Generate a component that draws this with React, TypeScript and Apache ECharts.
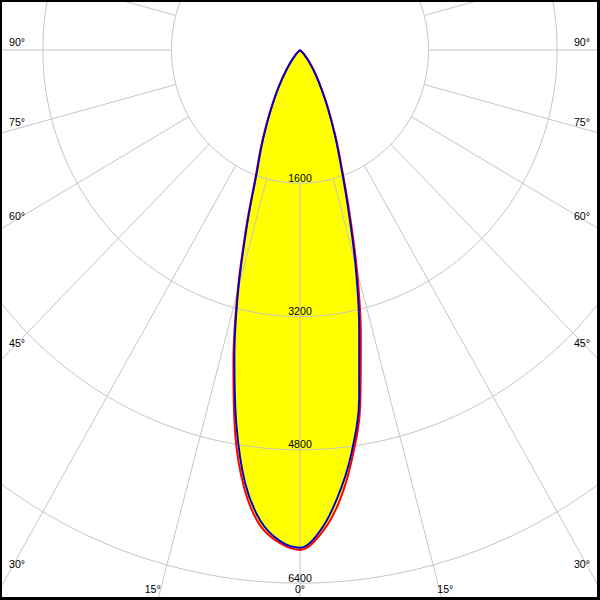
import React, { useEffect, useRef } from "react";
import * as echarts from "echarts";

// Gamma angles (degrees from nadir)
const GAMMA = [
  0, 2.5, 5, 7.5, 10, 12.5, 15, 17.5, 20, 22.5, 25, 27.5, 30, 32.5, 35, 37.5, 40,
  42.5, 45, 47.5, 50, 52.5, 55, 57.5, 60, 62.5, 65, 67.5, 70, 72.5, 75, 77.5, 80,
  82.5, 85, 87.5, 90,
];
const Z16 = [0, 0, 0, 0, 0, 0, 0, 0, 0, 0, 0, 0, 0, 0, 0, 0];

// Red plane (right half / left half), cd
const RED_RIGHT = [
  6000, 5820, 5470, 4955, 4320, 3500, 2740, 2050, 1540, 1200, 920, 705, 530, 395, 295,
  215, 150, 95, 50, 20, 0, ...Z16,
];
const RED_LEFT = [
  6000, 5920, 5725, 5310, 4655, 3830, 3000, 2220, 1610, 1280, 995, 760, 580, 425, 305,
  220, 150, 95, 50, 20, 0, ...Z16,
];
// Blue plane (right half / left half), cd
const BLUE_RIGHT = [
  5975, 5775, 5385, 4890, 4240, 3400, 2665, 1990, 1500, 1170, 900, 690, 520, 390, 290,
  210, 150, 95, 50, 20, 0, ...Z16,
];
const BLUE_LEFT = [
  5975, 5895, 5670, 5240, 4560, 3770, 2960, 2180, 1580, 1250, 970, 745, 570, 420, 300,
  215, 150, 95, 50, 20, 0, ...Z16,
];

const RADIUS_LABELS = [1600, 3200, 4800, 6400];
const RADIUS_MIN = 1600;
const RADIUS_MAX = 8000;
const RADIUS_STEP = 1600;
const ANGLE_STEP = 15;
const SIDE_LABEL_ANGLES = [90, 75, 60, 45, 30];
const BOTTOM_LABEL_ANGLES = [15, 0];

// layout
const W = 622;
const S = 600 / W; // horizontal compression of the picture
const CX = 300; // outer px
const CY = 50;
const R_STEP_PX = 133.3;
const R_MAX_PX = (R_STEP_PX * RADIUS_MAX) / RADIUS_STEP;
const FONT = '11px "Liberation Sans", Arial, sans-serif';

// one closed outline: right half (from 90° down to just past nadir), then left half
function curve(left: number[], right: number[]) {
  const pts: [number, number][] = [];
  for (let i = GAMMA.length - 1; i >= 1; i--) pts.push([right[i], 360 - GAMMA[i]]);
  for (let i = 0; i < GAMMA.length; i++) pts.push([left[i], GAMMA[i]]);
  return pts;
}

function angleLabels() {
  const els: any[] = [];
  SIDE_LABEL_ANGLES.forEach((a) => {
    const rad = (a * Math.PI) / 180;
    const slope = Math.cos(rad) / (Math.sin(rad) * S);
    const xl = 9;
    const y = CY + (CX - xl) * slope - 8.5;
    const st = { text: `${a}°`, font: FONT, fill: "#000", textVerticalAlign: "middle", verticalAlign: "middle" };
    els.push({ type: "text", x: xl / S, y, z: 10, style: { ...st, textAlign: "left", align: "left" } });
    els.push({ type: "text", x: 590 / S, y, z: 10, style: { ...st, textAlign: "right", align: "right" } });
  });
  BOTTOM_LABEL_ANGLES.forEach((a) => {
    const rad = (a * Math.PI) / 180;
    const y = 588.5;
    const st = { text: `${a}°`, font: FONT, fill: "#000", textVerticalAlign: "middle", verticalAlign: "middle" };
    if (a === 0) {
      els.push({ type: "text", x: CX / S, y, z: 10, style: { ...st, textAlign: "center", align: "center" } });
    } else {
      const lx = CX - (589 - CY) * Math.tan(rad) * S;
      els.push({ type: "text", x: lx / S, y, z: 10, style: { ...st, textAlign: "right", align: "right" } });
      els.push({ type: "text", x: (600 - lx - 2) / S, y, z: 10, style: { ...st, textAlign: "left", align: "left" } });
    }
  });
  return els;
}

export default function App() {
  const ref = useRef<HTMLDivElement>(null);
  useEffect(() => {
    const chart = echarts.init(ref.current!, undefined, { renderer: "svg" });
    const red = curve(RED_LEFT, RED_RIGHT);
    const blue = curve(BLUE_LEFT, BLUE_RIGHT);
    const center = [CX / S, CY];
    const base = {
      type: "line",
      coordinateSystem: "polar",
      polarIndex: 1,
      symbol: "none",
      showSymbol: false,
      smooth: 0.35,
      silent: true,
    };
    chart.setOption({
      animation: false,
      backgroundColor: "#ffffff",
      polar: [
        { center, radius: [R_STEP_PX, R_MAX_PX] },
        { center, radius: [0, R_MAX_PX] },
      ],
      angleAxis: [
        {
          polarIndex: 0,
          type: "value",
          min: 0,
          max: 360,
          interval: ANGLE_STEP,
          startAngle: 270,
          clockwise: true,
          z: 2,
          axisLine: { show: false },
          axisTick: { show: false },
          axisLabel: { show: false },
          splitLine: { show: true, lineStyle: { color: "#c4c4c4", width: 1 } },
        },
        {
          polarIndex: 1,
          type: "value",
          min: 0,
          max: 360,
          startAngle: 270,
          clockwise: true,
          show: false,
        },
      ],
      radiusAxis: [
        {
          polarIndex: 0,
          type: "value",
          min: RADIUS_MIN,
          max: RADIUS_MAX,
          interval: RADIUS_STEP,
          z: 2,
          axisLine: { show: false },
          axisTick: { show: false },
          axisLabel: {
            show: true,
            margin: 0,
            align: "center",
            verticalAlign: "bottom",
            color: "#000",
            fontSize: 11,
            fontFamily: '"Liberation Sans", Arial, sans-serif',
            formatter: (v: number) => (RADIUS_LABELS.includes(v) ? String(v) : ""),
          },
          splitLine: { show: true, lineStyle: { color: "#c4c4c4", width: 1 } },
        },
        {
          polarIndex: 1,
          type: "value",
          min: 0,
          max: RADIUS_MAX,
          show: false,
        },
      ],
      series: [
        { ...base, data: red, z: 1, lineStyle: { width: 0, opacity: 0 }, areaStyle: { color: "#ffff00", opacity: 1 } },
        { ...base, data: blue, z: 1, lineStyle: { width: 0, opacity: 0 }, areaStyle: { color: "#ffff00", opacity: 1 } },
        { ...base, data: red, z: 3, lineStyle: { color: "#ff0000", width: 2 } },
        { ...base, data: blue, z: 4, lineStyle: { color: "#0000cc", width: 2 } },
      ],
      graphic: angleLabels(),
    });
    return () => chart.dispose();
  }, []);
  return (
    <div style={{ position: "absolute", left: 0, top: 0, width: 600, height: 600, overflow: "hidden", background: "#fff" }}>
      <div
        ref={ref}
        style={{ position: "absolute", left: 0, top: 0, width: W, height: 600, transform: `scaleX(${S})`, transformOrigin: "0 0" }}
      />
      <div
        style={{
          position: "absolute",
          left: 0,
          top: 0,
          width: 600,
          height: 600,
          boxSizing: "border-box",
          borderStyle: "solid",
          borderColor: "#000",
          borderWidth: "2px 3px 3px 2px",
          pointerEvents: "none",
        }}
      />
    </div>
  );
}
